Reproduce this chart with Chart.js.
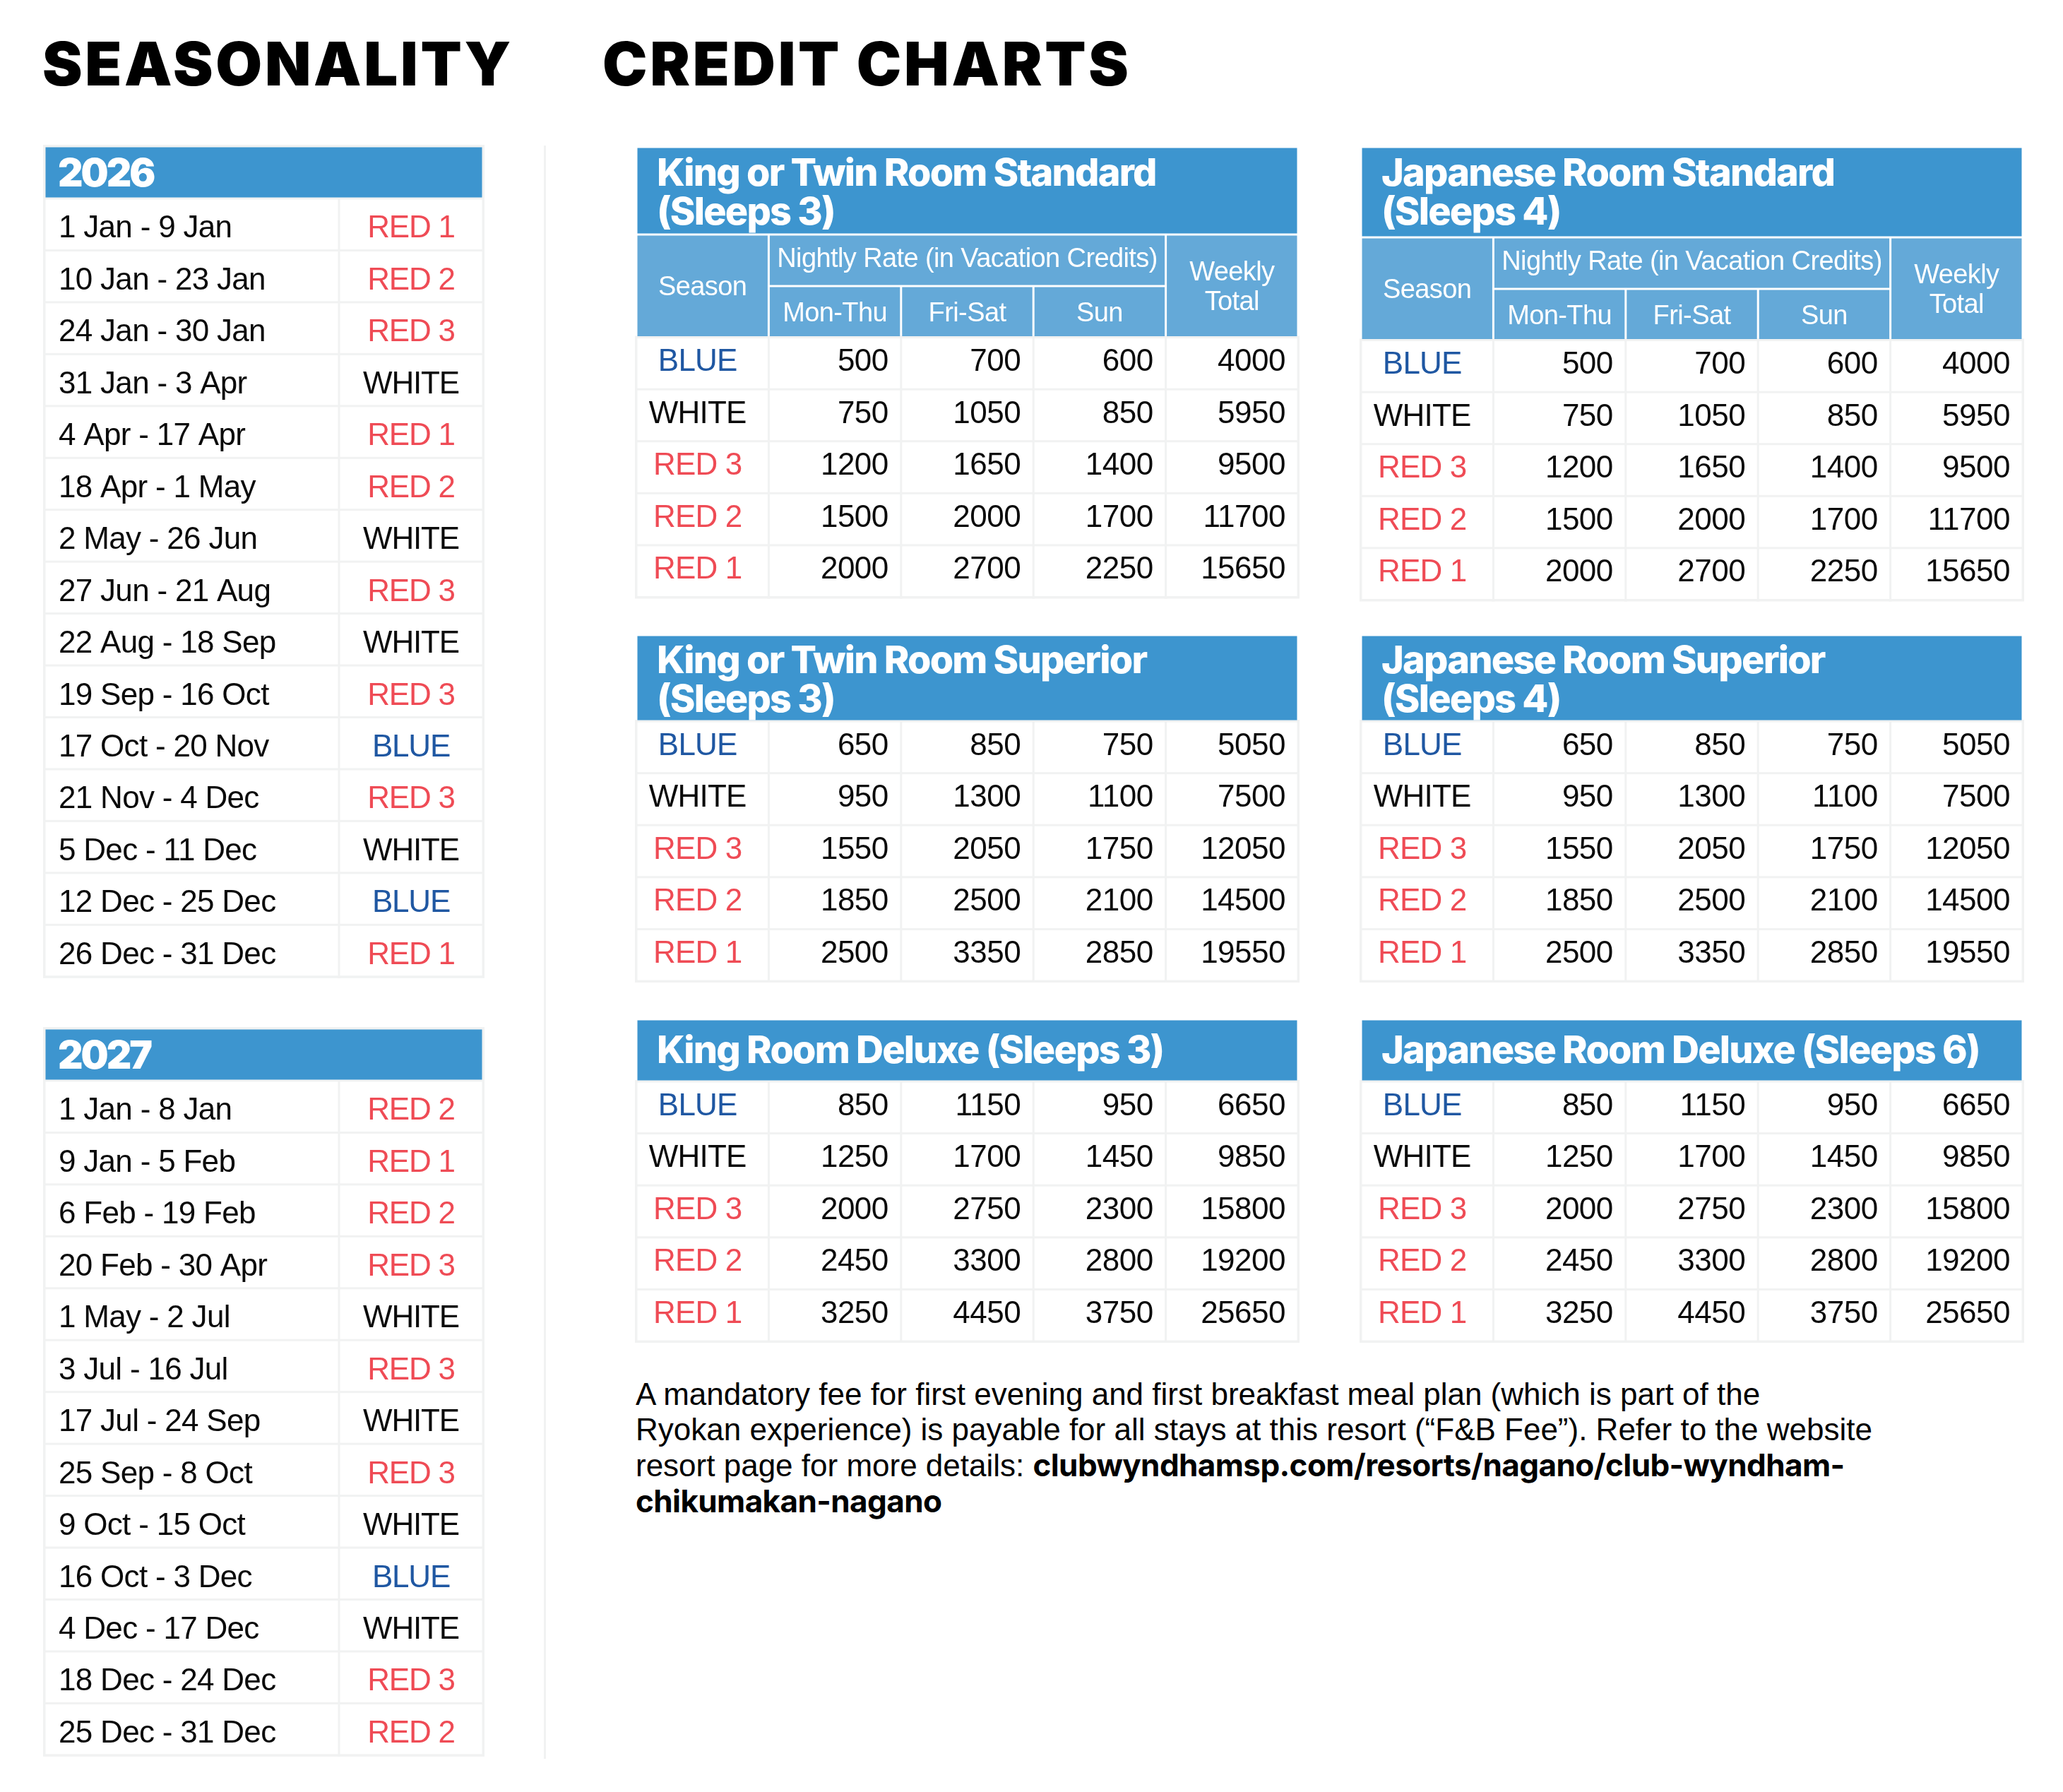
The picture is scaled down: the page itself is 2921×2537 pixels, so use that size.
<!DOCTYPE html>
<html><head><meta charset="utf-8">
<script src="https://cdn.jsdelivr.net/npm/chart.js@4.4.1/dist/chart.umd.min.js"></script>
<style>
html,body{margin:0;padding:0;background:#fff;}
body{width:2921px;height:2537px;position:relative;overflow:hidden;}
.h{position:absolute;font-family:Inter,"DejaVu Sans",sans-serif;font-weight:900;font-size:85px;line-height:85px;color:#000;letter-spacing:3.7px;white-space:nowrap;}
.sep{position:absolute;left:770px;top:206px;width:3px;height:2284px;background:#f1f2f2;}
.foot{position:absolute;left:900px;top:1949px;font-family:"Liberation Sans",Arial,sans-serif;font-size:44px;line-height:50px;color:#000;letter-spacing:0px;white-space:nowrap;}
.foot b{font-family:Inter,"Liberation Sans",sans-serif;font-weight:700;letter-spacing:-0.6px;}
canvas{position:absolute;}
</style></head>
<body>
<div class="h" style="left:60px;top:48px;">SEASONALITY</div>
<div class="h" style="left:853px;top:48px;">CREDIT CHARTS</div>
<div class="sep"></div>
<div class="foot">A mandatory fee for first evening and first breakfast meal plan (which is part of the<br>Ryokan experience) is payable for all stays at this resort (“F&amp;B Fee”). Refer to the website<br>resort page for more details: <b>clubwyndhamsp.com/resorts/nagano/club-wyndham-</b><br><b>chikumakan-nagano</b></div>

<canvas id="s2026"></canvas>
<canvas id="s2027"></canvas>
<canvas id="kStd"></canvas>
<canvas id="jStd"></canvas>
<canvas id="kSup"></canvas>
<canvas id="jSup"></canvas>
<canvas id="kDlx"></canvas>
<canvas id="jDlx"></canvas>

<script>
// ---------------- DATA ----------------
const years = ['2026', '2027'];
const dates2026 = ['1 Jan - 9 Jan','10 Jan - 23 Jan','24 Jan - 30 Jan','31 Jan - 3 Apr','4 Apr - 17 Apr','18 Apr - 1 May','2 May - 26 Jun','27 Jun - 21 Aug','22 Aug - 18 Sep','19 Sep - 16 Oct','17 Oct - 20 Nov','21 Nov - 4 Dec','5 Dec - 11 Dec','12 Dec - 25 Dec','26 Dec - 31 Dec'];
const season2026 = ['RED 1','RED 2','RED 3','WHITE','RED 1','RED 2','WHITE','RED 3','WHITE','RED 3','BLUE','RED 3','WHITE','BLUE','RED 1'];
const dates2027 = ['1 Jan - 8 Jan','9 Jan - 5 Feb','6 Feb - 19 Feb','20 Feb - 30 Apr','1 May - 2 Jul','3 Jul - 16 Jul','17 Jul - 24 Sep','25 Sep - 8 Oct','9 Oct - 15 Oct','16 Oct - 3 Dec','4 Dec - 17 Dec','18 Dec - 24 Dec','25 Dec - 31 Dec'];
const season2027 = ['RED 2','RED 1','RED 2','RED 3','WHITE','RED 3','WHITE','RED 3','WHITE','BLUE','WHITE','RED 3','RED 2'];

const seasonRows = ['BLUE','WHITE','RED 3','RED 2','RED 1'];
const rateHeader = 'Nightly Rate (in Vacation Credits)';
const rateColumns = ['Mon-Thu','Fri-Sat','Sun'];
const weeklyHeader = ['Weekly','Total'];
const seasonHeader = 'Season';

const kingStdTitle = ['King or Twin Room Standard','(Sleeps 3)'];
const kingStdMonThu = [500,750,1200,1500,2000];
const kingStdFriSat = [700,1050,1650,2000,2700];
const kingStdSun    = [600,850,1400,1700,2250];
const kingStdWeekly = [4000,5950,9500,11700,15650];

const japStdTitle = ['Japanese Room Standard','(Sleeps 4)'];
const japStdMonThu = [500,750,1200,1500,2000];
const japStdFriSat = [700,1050,1650,2000,2700];
const japStdSun    = [600,850,1400,1700,2250];
const japStdWeekly = [4000,5950,9500,11700,15650];

const kingSupTitle = ['King or Twin Room Superior','(Sleeps 3)'];
const kingSupMonThu = [650,950,1550,1850,2500];
const kingSupFriSat = [850,1300,2050,2500,3350];
const kingSupSun    = [750,1100,1750,2100,2850];
const kingSupWeekly = [5050,7500,12050,14500,19550];

const japSupTitle = ['Japanese Room Superior','(Sleeps 4)'];
const japSupMonThu = [650,950,1550,1850,2500];
const japSupFriSat = [850,1300,2050,2500,3350];
const japSupSun    = [750,1100,1750,2100,2850];
const japSupWeekly = [5050,7500,12050,14500,19550];

const kingDlxTitle = ['King Room Deluxe (Sleeps 3)'];
const kingDlxMonThu = [850,1250,2000,2450,3250];
const kingDlxFriSat = [1150,1700,2750,3300,4450];
const kingDlxSun    = [950,1450,2300,2800,3750];
const kingDlxWeekly = [6650,9850,15800,19200,25650];

const japDlxTitle = ['Japanese Room Deluxe (Sleeps 6)'];
const japDlxMonThu = [850,1250,2000,2450,3250];
const japDlxFriSat = [1150,1700,2750,3300,4450];
const japDlxSun    = [950,1450,2300,2800,3750];
const japDlxWeekly = [6650,9850,15800,19200,25650];

// ---------------- STYLE ----------------
const BODY = '"Liberation Sans", Arial, sans-serif';
const HEAD = 'Inter, "DejaVu Sans", sans-serif';
const COL = {head:'#3d95cf', sub:'#64a9d8', grid:'#f1f2f2', white:'#ffffff', red:'#ef4b55', blue:'#1f57a2', black:'#0a0a0a'};
function seasonColor(s){ return s==='BLUE' ? COL.blue : (s==='WHITE' ? COL.black : COL.red); }

// table specs kept outside Chart.js option resolution
const SPECS = {};

// ---------------- PLUGIN: draws cells through the chart scales ----------------
const tablePlugin = {
  id: 'tableCells',
  afterDraw(chart) {
    const spec = SPECS[chart.canvas.id];
    if (!spec) return;
    const ctx = chart.ctx, xs = chart.scales.x, ys = chart.scales.y;
    const X = v => xs.getPixelForValue(v), Y = v => ys.getPixelForValue(v);
    const box = c => ({x0: X(spec.cols[c.c0]), x1: X(spec.cols[c.c1]), y0: Y(spec.rows[c.r0]), y1: Y(spec.rows[c.r1])});
    ctx.save();
    spec.cells.forEach(c => {
      const b = box(c), o = c.out || 0;
      ctx.fillStyle = c.gap;
      ctx.fillRect(b.x0 - o, b.y0 - o, b.x1 - b.x0 + 2*o, b.y1 - b.y0 + 2*o);
    });
    spec.cells.forEach(c => {
      const b = box(c), g = c.g;
      ctx.fillStyle = c.fill;
      ctx.fillRect(b.x0 + g, b.y0 + g, b.x1 - b.x0 - 2*g, b.y1 - b.y0 - 2*g);
    });
    spec.cells.forEach(c => {
      const b = box(c);
      (c.texts || []).forEach(t => {
        ctx.font = t.font;
        ctx.fillStyle = t.color;
        ctx.letterSpacing = t.ls || '0px';
        ctx.textAlign = t.align;
        ctx.textBaseline = 'alphabetic';
        const tx = (t.align === 'left' ? b.x0 + t.pad : (t.align === 'right' ? b.x1 - t.pad : (b.x0 + b.x1) / 2)) + (t.dx || 0);
        const ty = (t.top !== undefined) ? b.y0 + t.top : (b.y0 + b.y1) / 2 + t.cap / 2 + (t.shift || 0);
        ctx.fillText(t.text, tx, ty);
      });
    });
    ctx.restore();
  }
};

function drawTable(id, left, top, spec) {
  const pad = 4;
  SPECS[id] = spec;
  const W = spec.cols[spec.cols.length-1], H = spec.rows[spec.rows.length-1];
  const cv = document.getElementById(id);
  cv.width = Math.ceil(W + 2*pad); cv.height = Math.ceil(H + 2*pad);
  cv.style.left = (left - pad) + 'px'; cv.style.top = (top - pad) + 'px';
  cv.style.width = cv.width + 'px'; cv.style.height = cv.height + 'px';
  new Chart(cv, {
    type: 'scatter',
    data: {datasets: [{data: [], pointRadius: 0}]},
    options: {
      responsive: false, animation: false, devicePixelRatio: 1, events: [],
      layout: {padding: 0},
      plugins: {legend: {display: false}, tooltip: {enabled: false}},
      scales: {
        x: {type: 'linear', min: -pad, max: cv.width - pad, display: false},
        y: {type: 'linear', min: -pad, max: cv.height - pad, reverse: true, display: false}
      }
    },
    plugins: [tablePlugin]
  });
}

// ---------------- SEASONALITY TABLES ----------------
function seasonSpec(year, dates, seasons) {
  const colW = [417, 204], headH = 74, rowH = 73.45;
  const cols = [0, colW[0], colW[0] + colW[1]];
  const rows = [0, headH];
  dates.forEach((d, i) => rows.push(headH + rowH * (i + 1)));
  const bodyFont = '44px ' + BODY;
  const cells = [{c0:0, c1:2, r0:0, r1:1, fill:COL.head, gap:COL.grid, g:1.5, out:2,
    texts:[{text:year, font:'900 55px ' + HEAD, color:COL.white, align:'left', pad:19, cap:40, shift:0, dx:0, ls:'-3px'}]}];
  dates.forEach((d, i) => {
    cells.push({c0:0, c1:1, r0:i+1, r1:i+2, fill:COL.white, gap:COL.grid, g:1.5, out:2,
      texts:[{text:d, font:bodyFont, color:COL.black, align:'left', pad:20, cap:31.5, shift:3, dx:0, ls:'-0.7px'}]});
    cells.push({c0:1, c1:2, r0:i+1, r1:i+2, fill:COL.white, gap:COL.grid, g:1.5, out:2,
      texts:[{text:seasons[i], font:bodyFont, color:seasonColor(seasons[i]), align:'center', pad:0, cap:31.5, shift:3, dx:0, ls:'-1.2px'}]});
  });
  return {cols, rows, cells};
}

// ---------------- CREDIT TABLES ----------------
function creditSpec(title, titleH, withSub, monThu, friSat, sun, weekly) {
  const colW = 187.4, rowH = 73.6;
  const cols = [0, 1, 2, 3, 4, 5].map(i => i * colW);
  const rows = [0, titleH];
  if (withSub) { rows.push(titleH + 73); rows.push(titleH + 145.5); }
  const dataTop = rows[rows.length - 1];
  seasonRows.forEach((s, i) => rows.push(dataTop + rowH * (i + 1)));
  const bodyFont = '44px ' + BODY, subFont = '38px ' + BODY;
  const titleFont = '800 54px ' + HEAD;
  const tTop = withSub ? 62 : titleH / 2;
  const titleTexts = title.length === 2
    ? [{text:title[0], font:titleFont, color:COL.white, align:'left', pad:29, dx:0, top:tTop - 7, ls:'-1.8px'},
       {text:title[1], font:titleFont, color:COL.white, align:'left', pad:29, dx:0, top:tTop + 48, ls:'-1.8px'}]
    : [{text:title[0], font:titleFont, color:COL.white, align:'left', pad:29, dx:0, cap:39, shift:-2, ls:'-1.8px'}];
  const cells = [{c0:0, c1:5, r0:0, r1:1, fill:COL.head, gap:COL.white, g:1.5, texts:titleTexts}];
  let r = 1;
  if (withSub) {
    cells.push({c0:0, c1:1, r0:1, r1:3, fill:COL.sub, gap:COL.white, g:1.5,
      texts:[{text:seasonHeader, font:subFont, color:COL.white, align:'center', pad:0, dx:0, cap:27, shift:0, ls:'-0.6px'}]});
    cells.push({c0:1, c1:4, r0:1, r1:2, fill:COL.sub, gap:COL.white, g:1.5,
      texts:[{text:rateHeader, font:subFont, color:COL.white, align:'center', pad:0, dx:0, cap:27, shift:-4, ls:'-0.6px'}]});
    rateColumns.forEach((rc, i) => cells.push({c0:1+i, c1:2+i, r0:2, r1:3, fill:COL.sub, gap:COL.white, g:1.5,
      texts:[{text:rc, font:subFont, color:COL.white, align:'center', pad:0, dx:0, cap:27, shift:0, ls:'-0.6px'}]}));
    cells.push({c0:4, c1:5, r0:1, r1:3, fill:COL.sub, gap:COL.white, g:1.5,
      texts:[{text:weeklyHeader[0], font:subFont, color:COL.white, align:'center', pad:0, dx:0, cap:27, shift:-21, ls:'-0.6px'},
             {text:weeklyHeader[1], font:subFont, color:COL.white, align:'center', pad:0, dx:0, cap:27, shift:21, ls:'-0.6px'}]});
    r = 3;
  }
  seasonRows.forEach((s, i) => {
    const rr = r + i;
    cells.push({c0:0, c1:1, r0:rr, r1:rr+1, fill:COL.white, gap:COL.grid, g:1.5, out:2,
      texts:[{text:s, font:bodyFont, color:seasonColor(s), align:'center', pad:0, dx:-7, cap:31.5, shift:-5, ls:'-0.8px'}]});
    [monThu[i], friSat[i], sun[i], weekly[i]].forEach((v, j) => {
      cells.push({c0:1+j, c1:2+j, r0:rr, r1:rr+1, fill:COL.white, gap:COL.grid, g:1.5, out:2,
        texts:[{text:String(v), font:bodyFont, color:COL.black, align:'right', pad:18, dx:0, cap:31.5, shift:-5, ls:'-0.5px'}]});
    });
  });
  return {cols, rows, cells};
}

drawTable('s2026', 63, 207, seasonSpec(years[0], dates2026, season2026));
drawTable('s2027', 63, 1456, seasonSpec(years[1], dates2027, season2027));

drawTable('kStd', 901, 208, creditSpec(kingStdTitle, 124, true, kingStdMonThu, kingStdFriSat, kingStdSun, kingStdWeekly));
drawTable('jStd', 1927, 208, creditSpec(japStdTitle, 128, true, japStdMonThu, japStdFriSat, japStdSun, japStdWeekly));
drawTable('kSup', 901, 899, creditSpec(kingSupTitle, 122, false, kingSupMonThu, kingSupFriSat, kingSupSun, kingSupWeekly));
drawTable('jSup', 1927, 899, creditSpec(japSupTitle, 122, false, japSupMonThu, japSupFriSat, japSupSun, japSupWeekly));
drawTable('kDlx', 901, 1443, creditSpec(kingDlxTitle, 88, false, kingDlxMonThu, kingDlxFriSat, kingDlxSun, kingDlxWeekly));
drawTable('jDlx', 1927, 1443, creditSpec(japDlxTitle, 88, false, japDlxMonThu, japDlxFriSat, japDlxSun, japDlxWeekly));
</script>
</body></html>
